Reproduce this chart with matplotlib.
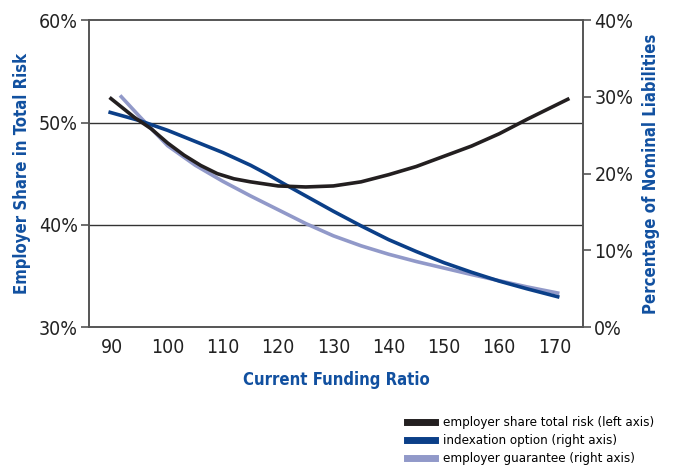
import matplotlib.pyplot as plt
from matplotlib.lines import Line2D
from matplotlib.ticker import FuncFormatter

plt.rcParams['font.family'] = ['DejaVu Sans']
plt.rcParams['font.stretch'] = 'condensed'

# funding ratio (x) and curves
x_risk = [89.5, 94, 97, 100, 103, 106, 109, 112, 115, 120, 125, 130, 135, 140, 145,
          150, 155, 160, 165, 172.7]
risk_share = [52.45, 50.5, 49.4, 48.0, 46.8, 45.8, 45.0, 44.5, 44.2, 43.8, 43.7, 43.8,
              44.2, 44.9, 45.7, 46.7, 47.7, 48.9, 50.3, 52.35]

x_index = [89.3, 95, 100, 105, 110, 115, 118, 121, 125, 130, 135, 140, 145, 150, 155,
           160, 165, 170.9]
indexation = [28.05, 26.9, 25.65, 24.2, 22.75, 21.1, 19.95, 18.7, 17.1, 15.1, 13.2,
              11.4, 9.85, 8.4, 7.15, 6.0, 5.0, 3.9]

x_guar = [91.4, 95, 100, 105, 110, 115, 120, 125, 130, 135, 140, 145, 150, 155, 160,
          165, 170.9]
guarantee = [30.2, 27.4, 23.65, 21.1, 19.0, 17.1, 15.3, 13.5, 11.9, 10.6, 9.5, 8.55,
             7.7, 6.85, 6.05, 5.25, 4.4]

xticks = [90, 100, 110, 120, 130, 140, 150, 160, 170]

black = '#231f20'
navy = '#0b3f88'
lilac = '#9199c9'
label_blue = '#1150a0'
spine_col = '#555555'

fig = plt.figure(figsize=(6.75, 4.7), dpi=100)
ax = fig.add_axes([0.132, 0.304, 0.732, 0.653])
ax2 = ax.twinx()

ax.set_xlim(85.8, 175.2)
ax.set_ylim(30, 60)
ax2.set_ylim(0, 40)

ax.set_xticks(xticks)
ax.set_yticks([30, 40, 50, 60])
ax2.set_yticks([0, 10, 20, 30, 40])
pct = FuncFormatter(lambda v, p: '%d%%' % v)
ax.yaxis.set_major_formatter(pct)
ax2.yaxis.set_major_formatter(pct)

for y in [40, 50]:
    ax.axhline(y, color='#333333', lw=1.0, zorder=1)

style = dict(lw=2.6, solid_capstyle='butt', solid_joinstyle='round')
ax2.plot(x_guar, guarantee, color=lilac, zorder=3, **style)
ax2.plot(x_index, indexation, color=navy, zorder=4, **style)
# left-axis series drawn on the right axes, rescaled 30-60% -> 0-40%
ax2.plot(x_risk, [(v - 30) * 40 / 30 for v in risk_share], color=black, zorder=5, **style)

for a in (ax, ax2):
    for s in a.spines.values():
        s.set_color(spine_col)
        s.set_linewidth(1.2)

ax.tick_params(axis='y', direction='out', length=6, width=1.2, color=spine_col,
               labelsize=14, labelcolor='#222222', pad=2)
ax2.tick_params(axis='y', direction='out', length=6, width=1.2, color=spine_col,
                labelsize=14, labelcolor='#222222', pad=2)
ax.tick_params(axis='x', length=0, labelsize=14, labelcolor='#222222', pad=8)

ax.set_ylabel('Employer Share in Total Risk', color=label_blue, fontsize=12,
              fontweight='bold', labelpad=6)
ax2.set_ylabel('Percentage of Nominal Liabilities', color=label_blue, fontsize=12,
               fontweight='bold', labelpad=6)
ax.set_xlabel('Current Funding Ratio', color=label_blue, fontsize=12,
              fontweight='bold', labelpad=10)

handles = [Line2D([], [], color=black, lw=5),
           Line2D([], [], color=navy, lw=5),
           Line2D([], [], color=lilac, lw=5)]
labels = ['employer share total risk (left axis)',
          'indexation option (right axis)',
          'employer guarantee (right axis)']
fig.legend(handles, labels, loc='upper left', bbox_to_anchor=(0.603, 0.114),
           frameon=False, fontsize=9.5, handlelength=2.1, handletextpad=0.6,
           labelspacing=0.38, borderpad=0, borderaxespad=0)

fig.savefig('out.png', dpi=100)
